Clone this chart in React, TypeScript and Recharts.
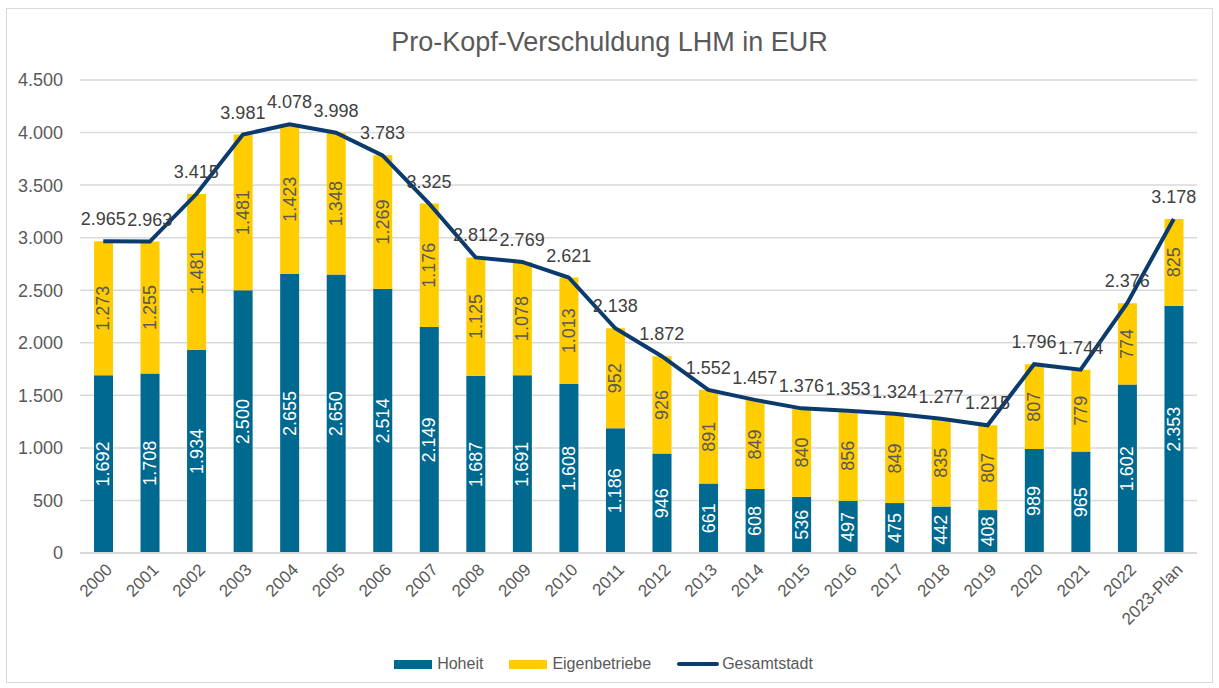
import {
  ComposedChart,
  Bar,
  Line,
  XAxis,
  YAxis,
  CartesianGrid,
  Legend,
  LabelList
} from 'recharts'

const years = [
  '2000', '2001', '2002', '2003', '2004', '2005', '2006', '2007', '2008', '2009', '2010', '2011',
  '2012', '2013', '2014', '2015', '2016', '2017', '2018', '2019', '2020', '2021', '2022', '2023-Plan'
]
const hoheit = [
  1692, 1708, 1934, 2500, 2655, 2650, 2514, 2149, 1687, 1691, 1608, 1186,
  946, 661, 608, 536, 497, 475, 442, 408, 989, 965, 1602, 2353
]
const eigenbetriebe = [
  1273, 1255, 1481, 1481, 1423, 1348, 1269, 1176, 1125, 1078, 1013, 952,
  926, 891, 849, 840, 856, 849, 835, 807, 807, 779, 774, 825
]
const gesamtstadt = [
  2965, 2963, 3415, 3981, 4078, 3998, 3783, 3325, 2812, 2769, 2621, 2138,
  1872, 1552, 1457, 1376, 1353, 1324, 1277, 1215, 1796, 1744, 2376, 3178
]
const yTicks = [0, 500, 1000, 1500, 2000, 2500, 3000, 3500, 4000, 4500]

const BLUE = '#00698f'
const YELLOW = '#ffcc00'
const NAVY = '#0b3a6e'
const TEXT = '#595959'
const FONT = '"Liberation Sans", Arial, sans-serif'

const data = years.map((year, i) => ({
  year,
  hoheit: hoheit[i],
  eigenbetriebe: eigenbetriebe[i],
  gesamtstadt: gesamtstadt[i]
}))

// german thousands separator
const fmt = (v: number) => String(v).replace(/\B(?=(\d{3})+(?!\d))/g, '.')

const barLabel = (color: string) => (props: any) => {
  const { x, y, width, height, value } = props
  const cx = Number(x) + Number(width) / 2
  const cy = Number(y) + Number(height) / 2
  return (
    <text
      x={cx}
      y={cy}
      transform={`rotate(-90 ${cx} ${cy})`}
      textAnchor="middle"
      dominantBaseline="central"
      fill={color}
      fontSize={18}
      fontFamily={FONT}
    >
      {fmt(Number(value))}
    </text>
  )
}

const lineLabel = (props: any) => {
  const { x, y, value } = props
  return (
    <text
      x={x}
      y={Number(y) - 22}
      textAnchor="middle"
      dominantBaseline="central"
      fill="#404040"
      fontSize={18}
      fontFamily={FONT}
    >
      {fmt(Number(value))}
    </text>
  )
}

const XTick = (props: any) => {
  const { x, y, payload } = props
  const tx = Number(x) + 6
  const ty = Number(y) + 6
  return (
    <text
      x={tx}
      y={ty}
      transform={`rotate(-45 ${tx} ${ty})`}
      textAnchor="end"
      dominantBaseline="central"
      fill={TEXT}
      fontSize={17}
      fontFamily={FONT}
    >
      {payload.value}
    </text>
  )
}

const legendItems = [
  { name: 'Hoheit', color: BLUE, kind: 'bar' },
  { name: 'Eigenbetriebe', color: YELLOW, kind: 'bar' },
  { name: 'Gesamtstadt', color: NAVY, kind: 'line' }
]

function ChartLegend() {
  return (
    <div style={{ height: 24, display: 'flex', justifyContent: 'center', alignItems: 'center', gap: 26 }}>
      {legendItems.map((item) => (
        <div key={item.name} style={{ display: 'flex', alignItems: 'center', fontSize: 16, color: TEXT, fontFamily: FONT }}>
          {item.kind === 'bar' ? (
            <span style={{ display: 'inline-block', width: 38, height: 9, background: item.color, marginRight: 5 }} />
          ) : (
            <span style={{ display: 'inline-block', width: 42, height: 4, borderRadius: 2, background: item.color, marginRight: 3 }} />
          )}
          {item.name}
        </div>
      ))}
    </div>
  )
}

export default function App() {
  return (
    <div style={{ position: 'absolute', left: 0, top: 0, width: 1219, height: 688, background: '#fff', fontFamily: FONT }}>
      <div style={{ position: 'absolute', left: 6, top: 8, width: 1205, height: 673, border: '1px solid #d9d9d9' }} />
      <div style={{ position: 'absolute', left: 0, top: 26, width: 1219, textAlign: 'center', fontSize: 27, color: TEXT, lineHeight: '32px' }}>
        Pro-Kopf-Verschuldung LHM in EUR
      </div>
      <div style={{ position: 'absolute', left: 0, top: 0 }}>
        <ComposedChart
          width={1219}
          height={688}
          data={data}
          margin={{ top: 80, right: 22, left: 10, bottom: 12 }}
        >
          <CartesianGrid vertical={false} stroke="#d9d9d9" strokeWidth={1.5} />
          <XAxis
            dataKey="year"
            interval={0}
            height={99}
            tick={<XTick />}
            tickLine={false}
            axisLine={{ stroke: '#d9d9d9', strokeWidth: 2 }}
          />
          <YAxis
            width={70}
            domain={[0, 4500]}
            ticks={yTicks}
            tickFormatter={(v: number) => fmt(v)}
            tick={{ fill: TEXT, fontSize: 18, fontFamily: FONT }}
            tickLine={false}
            axisLine={false}
            tickSize={0}
            tickMargin={17}
          />
          <Legend verticalAlign="bottom" content={() => <ChartLegend />} />
          <Bar dataKey="hoheit" name="Hoheit" stackId="a" fill={BLUE} barSize={19} isAnimationActive={false}>
            <LabelList dataKey="hoheit" content={barLabel('#ffffff')} />
          </Bar>
          <Bar dataKey="eigenbetriebe" name="Eigenbetriebe" stackId="a" fill={YELLOW} barSize={19} isAnimationActive={false}>
            <LabelList dataKey="eigenbetriebe" content={barLabel('#595959')} />
          </Bar>
          <Line
            type="linear"
            dataKey="gesamtstadt"
            name="Gesamtstadt"
            stroke={NAVY}
            strokeWidth={4}
            dot={false}
            isAnimationActive={false}
          >
            <LabelList dataKey="gesamtstadt" content={lineLabel} />
          </Line>
        </ComposedChart>
      </div>
    </div>
  )
}
